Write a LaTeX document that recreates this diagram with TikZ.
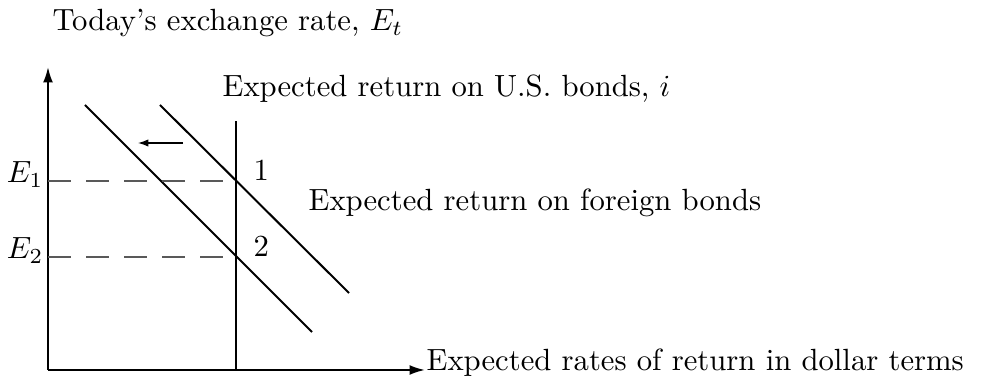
\documentclass[tikz,border=0pt]{standalone}
\usepackage{amsmath}
\usetikzlibrary{arrows.meta, positioning}

\begin{document}
\begin{tikzpicture}[
    x=0.326pt, y=-0.326pt, font=\normalsize,
    axis/.style={line width=0.65pt, -{Latex[length=5pt,width=3.2pt]}},
    curve/.style={line width=0.65pt},
    moveleft/.style={line width=0.4pt, -{Latex[length=3.4pt,width=2.4pt]}},
    guide/.style={line width=0.45pt, black!65, dash pattern=on 7.4pt off 5pt},
    lbl/.style={inner sep=0pt}
]
\useasboundingbox (0,0) rectangle (989,379);
% axes
\coordinate (O) at (48,370);
\coordinate (ytop) at (48,67);
\coordinate (xend) at (425,370);
\draw[axis] (O) -- (ytop);
\draw[axis] (O) -- (xend);
\node[lbl, anchor=base west] (vlab) at (52,31) {Today's exchange rate, $E_t$};
\node[lbl, anchor=base west] (hlab) at (426,371) {Expected rates of return in dollar terms};
% U.S. bonds
\coordinate (itop) at (236,121);
\coordinate (ibot) at (236,370);
\draw[curve] (ibot) -- (itop);
\node[lbl, anchor=base west] (ilab) at (222,97) {Expected return on U.S. bonds, $i$};
% foreign bonds, before and after
\coordinate (fa) at (160,105);
\coordinate (fb) at (349,293);
\coordinate (ga) at (85,105);
\coordinate (gb) at (312,332);
\draw[curve] (fa) -- (fb);
\draw[curve] (ga) -- (gb);
\node[lbl, anchor=base west] (flab) at (308,211) {Expected return on foreign bonds};
\coordinate (sa) at (183,143);
\coordinate (sb) at (138,143);
\draw[moveleft] (sa) -- (sb);
% equilibria
\foreach \k/\yy in {1/181,2/257} {
   \coordinate (e\k) at (48,\yy);
   \coordinate (p\k) at (236,\yy);
   \draw[guide] (e\k) -- (p\k);
   \node[lbl, anchor=base east] (E\k) at (44,\yy+2) {$E_\k$};
   \node[lbl, anchor=base west] (pt\k) at (253,\yy) {\k};
}
\end{tikzpicture}
\end{document}
